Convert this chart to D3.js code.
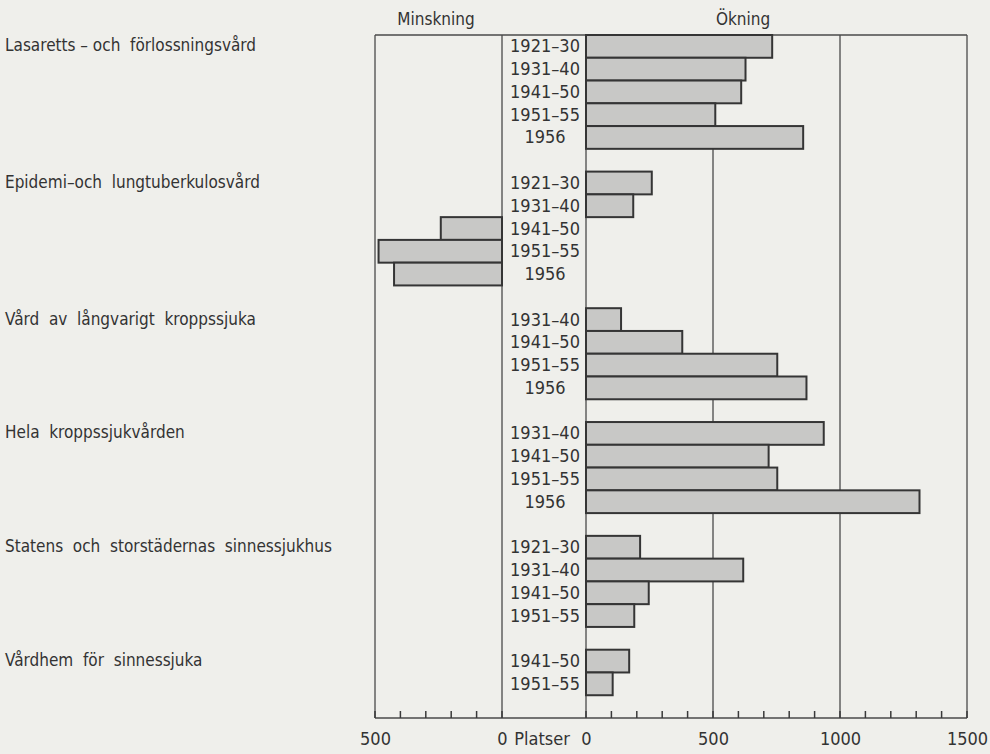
<!DOCTYPE html>
<html>
<head>
  <meta charset="UTF-8">
  <title>Platser – ökning och minskning</title>
  <script src="https://d3js.org/d3.v7.min.js"></script>
  <style>
    body {
      margin: 0;
      padding: 0;
      background: #efefeb;
    }
    svg text {
      font-family: "Liberation Sans Narrow", "DejaVu Sans Condensed", "DejaVu Sans", sans-serif;
      fill: #333;
    }
  </style>
</head>
<body>
<svg></svg>

<script>
// groups, periods per group, values per group (negative = minskning)
const groups = [
  "Lasaretts – och  förlossningsvård",
  "Epidemi–och  lungtuberkulosvård",
  "Vård  av  långvarigt  kroppssjuka",
  "Hela  kroppssjukvården",
  "Statens  och  storstädernas  sinnessjukhus",
  "Vårdhem  för  sinnessjuka"
];
const periods = [
  ["1921–30", "1931–40", "1941–50", "1951–55", "1956"],
  ["1921–30", "1931–40", "1941–50", "1951–55", "1956"],
  ["1931–40", "1941–50", "1951–55", "1956"],
  ["1931–40", "1941–50", "1951–55", "1956"],
  ["1921–30", "1931–40", "1941–50", "1951–55"],
  ["1941–50", "1951–55"]
];
const values = [
  [733, 628, 611, 509, 855],
  [259, 186, -241, -486, -425],
  [138, 379, 753, 868],
  [936, 719, 753, 1313],
  [213, 619, 247, 190],
  [170, 105]
];
const leftTicks = [0, 100, 200, 300, 400, 500];
const rightTicks = d3.range(0, 1501, 100);
const majorTicks = [0, 500, 1000, 1500];

let width = 990, height = 754;
let svg = d3.select("svg").attr("width", width).attr("height", height);

// one row per bar, an empty row after each group
let rows = [];
groups.forEach((g, gi) => {
  periods[gi].forEach((p, pi) => {
    rows.push({ key: gi + "-" + pi, group: gi, first: pi === 0, period: p, value: values[gi][pi] });
  });
  rows.push({ key: gi + "-gap", gap: true });
});

let yTop = 35, yBottom = 718;
let y = d3.scaleBand().domain(rows.map(d => d.key)).range([yTop, yBottom]).padding(0);
let xLeft = d3.scaleLinear().domain([0, 500]).range([502, 375]);
let xRight = d3.scaleLinear().domain([0, 1500]).range([586, 967]);

let frame = svg.append("g").attr("stroke", "#4a4a4a").attr("stroke-width", 1.3);

// vertical lines
[xLeft(500), xLeft(0), xRight(0), xRight(500), xRight(1000), xRight(1500)].forEach(x => {
  frame.append("line").attr("x1", x).attr("x2", x).attr("y1", yTop).attr("y2", yBottom);
});
// top and bottom lines
frame.append("line").attr("x1", xLeft(500)).attr("x2", xRight(1500)).attr("y1", yTop).attr("y2", yTop);
frame.append("line").attr("x1", xLeft(500)).attr("x2", xRight(1500)).attr("y1", yBottom).attr("y2", yBottom);

// small ticks above the axis line
let tickPos = leftTicks.map(d => xLeft(d)).concat(rightTicks.map(d => xRight(d)));
svg.append("g")
  .selectAll("line")
  .data(tickPos)
  .join("line")
  .attr("x1", d => d).attr("x2", d => d)
  .attr("y1", yBottom - 7).attr("y2", yBottom)
  .attr("stroke", "#3a3a3a")
  .attr("stroke-width", 1.5);

let bars = rows.filter(d => !d.gap);

svg.append("g")
  .selectAll("rect")
  .data(bars)
  .join("rect")
  .attr("x", d => d.value >= 0 ? xRight(0) : xLeft(-d.value))
  .attr("width", d => d.value >= 0 ? xRight(d.value) - xRight(0) : xLeft(0) - xLeft(-d.value))
  .attr("y", d => y(d.key))
  .attr("height", y.bandwidth())
  .attr("fill", "#c8c8c6")
  .attr("stroke", "#353535")
  .attr("stroke-width", 2);

// period labels
svg.append("g")
  .selectAll("text")
  .data(bars)
  .join("text")
  .attr("x", (xLeft(0) + xRight(0)) / 2 + 1)
  .attr("y", d => y(d.key) + y.bandwidth() / 2 + 6)
  .attr("text-anchor", "middle")
  .style("font-size", "18px")
  .text(d => d.period);

// group labels
svg.append("g")
  .selectAll("text")
  .data(bars.filter(d => d.first))
  .join("text")
  .attr("x", 5)
  .attr("y", d => y(d.key) + y.bandwidth() / 2 + 5)
  .style("font-size", "17px")
  .style("white-space", "pre")
  .attr("xml:space", "preserve")
  .text(d => groups[d.group]);

// headers
svg.append("text").attr("x", 436).attr("y", 25).attr("text-anchor", "middle")
  .style("font-size", "17px").text("Minskning");
svg.append("text").attr("x", 743).attr("y", 25).attr("text-anchor", "middle")
  .style("font-size", "17px").text("Ökning");

// axis labels (major values only)
let leftAxis = d3.axisBottom(xLeft).tickValues([0, 500]).tickSize(0).tickPadding(14).tickFormat(d3.format("d"));
let rightAxis = d3.axisBottom(xRight).tickValues(majorTicks).tickSize(0).tickPadding(14).tickFormat(d3.format("d"));

[leftAxis, rightAxis].forEach(a => {
  let g = svg.append("g").attr("transform", `translate(0, ${yBottom})`).call(a);
  g.select(".domain").remove();
  g.selectAll("text").style("font-size", "18px").attr("fill", "#333");
});

svg.append("text").attr("x", (xLeft(0) + xRight(0)) / 2 - 2).attr("y", 745)
  .attr("text-anchor", "middle").style("font-size", "18px").text("Platser");
</script>

</body>
</html>
